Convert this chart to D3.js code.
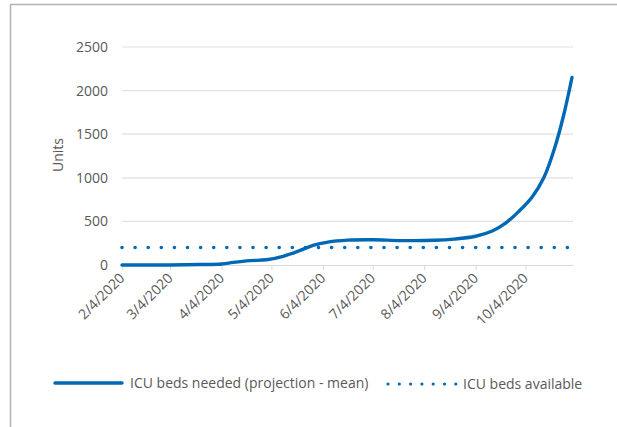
<!DOCTYPE html>
<html>
<head>
<meta charset="utf-8">
<script src="https://d3js.org/d3.v7.min.js"></script>
<style>
  body { margin: 0; background: #fff; }
  svg { display: block; font-family: "Open Sans", sans-serif; }
</style>
</head>
<body>
<svg id="chart" width="617" height="427"></svg>
<script>
// dates (M/D/YYYY) and ICU beds needed
var needDates = ["2/4/2020", "3/4/2020", "3/22/2020", "4/4/2020", "4/11/2020", "4/21/2020",
  "5/1/2020", "5/11/2020", "5/21/2020", "5/29/2020", "6/7/2020", "6/19/2020", "7/4/2020",
  "7/21/2020", "8/10/2020", "8/22/2020", "9/4/2020", "9/14/2020", "9/22/2020",
  "9/30/2020", "10/8/2020", "10/15/2020", "10/22/2020", "10/27/2020", "11/1/2020"];
var needValues = [0, 0, 5, 12, 30, 50, 60, 100, 165, 225, 263, 285, 290,
  280, 283, 297, 330, 390, 480, 615, 780, 1000, 1370, 1720, 2150];

var availDates = ["2/4/2020", "11/1/2020"];
var availValues = [200, 200];

var tickDates = ["2/4/2020", "3/4/2020", "4/4/2020", "5/4/2020", "6/4/2020",
  "7/4/2020", "8/4/2020", "9/4/2020", "10/4/2020"];
var yTicks = [0, 500, 1000, 1500, 2000, 2500];

var legendLabels = ["ICU beds needed (projection - mean)", "ICU beds available"];

var parse = d3.timeParse("%-m/%-d/%Y");
var fmt = d3.timeFormat("%-m/%-d/%Y");
var blue = "#0068b5";
var grey = "#595959";

var svg = d3.select("#chart");

// outer frame
svg.append("path")
  .attr("d", "M10.5,440 V4.5 H640")
  .attr("fill", "none")
  .attr("stroke", "#b4b4b4")
  .attr("stroke-width", 1.5);

var x = d3.scaleTime()
  .domain([parse("2/4/2020"), parse("11/1/2020")])
  .range([122, 572]);
var y = d3.scaleLinear().domain([0, 2500]).range([265, 47]);

// gridlines
svg.append("g").selectAll("line")
  .data(yTicks.slice(1))
  .enter().append("line")
  .attr("x1", 122).attr("x2", 573)
  .attr("y1", function(d) { return y(d); })
  .attr("y2", function(d) { return y(d); })
  .attr("stroke", "#e0e0e0").attr("stroke-width", 1.2);

// y axis labels
svg.append("g").selectAll("text")
  .data(yTicks)
  .enter().append("text")
  .attr("x", 108)
  .attr("y", function(d) { return y(d) + 5; })
  .attr("text-anchor", "end")
  .attr("fill", grey)
  .style("font-size", "14px")
  .text(function(d) { return d; });

svg.append("text")
  .attr("transform", "translate(63,155) rotate(-90)")
  .attr("text-anchor", "middle")
  .attr("fill", grey)
  .style("font-size", "14px")
  .text("Units");

// x axis
var xAxis = d3.axisBottom(x)
  .tickValues(tickDates.map(parse))
  .tickFormat(fmt)
  .tickSize(5)
  .tickSizeOuter(0);

var gx = svg.append("g")
  .attr("transform", "translate(0," + y(0) + ")")
  .call(xAxis);
gx.select(".domain").attr("stroke", "#d9d9d9").attr("stroke-width", 1.2)
  .attr("d", "M122,0.5H573");
gx.selectAll(".tick line").attr("stroke", "#d9d9d9");
gx.selectAll(".tick text")
  .attr("fill", grey)
  .style("font-size", "14px")
  .style("font-family", "'Open Sans', sans-serif")
  .attr("text-anchor", "end")
  .attr("dy", null)
  .attr("y", 0)
  .attr("transform", "translate(3,14) rotate(-45)");

// lines
var line = d3.line()
  .x(function(d) { return x(d[0]); })
  .y(function(d) { return y(d[1]); });

var needData = needDates.map(function(d, i) { return [parse(d), needValues[i]]; });
var availData = availDates.map(function(d, i) { return [parse(d), availValues[i]]; });

svg.append("path")
  .datum(availData)
  .attr("d", line)
  .attr("fill", "none")
  .attr("stroke", blue)
  .attr("stroke-width", 3.6)
  .attr("stroke-linecap", "round")
  .attr("stroke-dasharray", "0 13.1");

svg.append("path")
  .datum(needData)
  .attr("d", line.curve(d3.curveCatmullRom.alpha(0.5)))
  .attr("fill", "none")
  .attr("stroke", blue)
  .attr("stroke-width", 3.4)
  .attr("stroke-linecap", "round");

// legend
var lg = svg.append("g");
lg.append("line")
  .attr("x1", 55).attr("x2", 122).attr("y1", 383).attr("y2", 383)
  .attr("stroke", blue).attr("stroke-width", 3.4).attr("stroke-linecap", "round");
lg.append("text")
  .attr("x", 130).attr("y", 388)
  .attr("fill", grey).style("font-size", "14px")
  .text(legendLabels[0]);
lg.append("line")
  .attr("x1", 388).attr("x2", 456).attr("y1", 384).attr("y2", 384)
  .attr("stroke", blue).attr("stroke-width", 3.2).attr("stroke-linecap", "round")
  .attr("stroke-dasharray", "0 11.3");
lg.append("text")
  .attr("x", 463).attr("y", 389)
  .attr("fill", grey).style("font-size", "14px")
  .text(legendLabels[1]);
</script>
</body>
</html>
